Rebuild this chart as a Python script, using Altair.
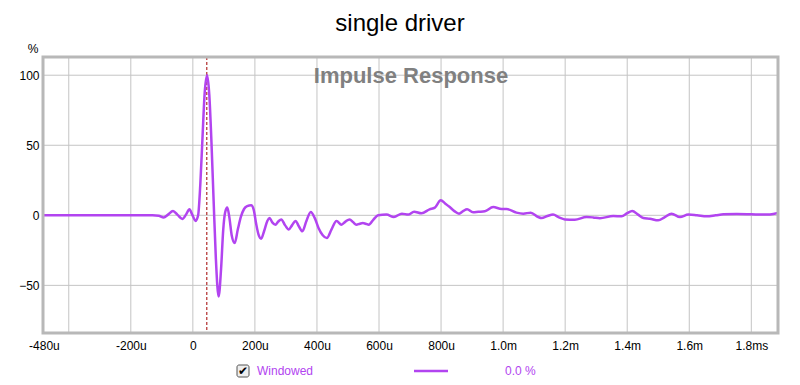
import altair as alt
import pandas as pd

# ---- data ----
time_us = [-483, -400, -300, -200, -130, -110, -94, -80, -64, -50, -34, -22, -11, -2, 9, 17,
           24, 31, 38, 46, 53, 60, 67, 74, 83, 91, 98, 104, 111, 118, 125, 135, 145, 155,
           165, 175, 188, 196, 204, 212, 220, 230, 240, 247, 256, 266, 275, 285, 297, 309,
           320, 331, 342, 353, 366, 380, 393, 405, 418, 432, 447, 463, 479, 492, 505, 517,
           527, 538, 548, 557, 567, 582, 597, 624, 648, 674, 694, 713, 737, 763, 780, 799,
           813, 828, 843, 858, 871, 884, 903, 920, 941, 968, 995, 1011, 1043, 1065, 1089,
           1113, 1124, 1143, 1161, 1180, 1199, 1231, 1269, 1290, 1312, 1355, 1382, 1400,
           1416, 1435, 1452, 1473, 1500, 1520, 1543, 1570, 1597, 1625, 1656, 1685, 1710,
           1753, 1800, 1839, 1860, 1886]
response_pct = [0, 0, 0, 0, 0, -0.3, -1.6, 0.5, 3.1, 0.5, -2.6, 0.5, 4.3, 0.5, -4, 0,
                22, 55, 87, 100, 86, 52, 10, -30, -58, -38, -10, 2, 5.5, -2, -14, -19.8, -10, -1,
                4.5, 6.5, 7.1, 4, -6, -14, -16.7, -11, -4, -1.9, -5, -6.7, -4.5, -2.9, -7, -10.2,
                -7, -4, -8, -11.4, -4, 2.4, -2, -9, -14, -16.2, -10, -4, -6.7, -4.5, -2.9, -5,
                -6.7, -6, -5.5, -6, -6.7, -3, 0, 0.5, -1.2, 1.2, 0.5, 2.6, 1.4, 4.3, 5.5, 10.7,
                8.5, 5.9, 3, 1.2, 3, 4.3, 2.1, 2.5, 2.9, 5.9, 4.5, 4.5, 1.9, 1.2, 1.9,
                -1.2, -1.9, -0.5, 0.5, -1.5, -2.9, -3.1, -1.2, -1.5, -2.1, -0.5, -0.7, 1.5,
                3.1, 0.5, -1.9, -2.4, -3.6, -1.5, 1.2, -1.2, 0.5, 0, -0.7, 0, 0.7,
                0.9, 0.7, 0.5, 0.5, 1.6]

x_tick_values = [-480, -200, 0, 200, 400, 600, 800, 1000, 1200, 1400, 1600, 1800]
x_tick_labels = ["-480u", "-200u", "0", "200u", "400u", "600u", "800u", "1.0m", "1.2m", "1.4m", "1.6m", "1.8ms"]
x_grid = [-400, -200, 0, 200, 400, 600, 800, 1000, 1200, 1400, 1600, 1800]
y_grid = [-50, 0, 50, 100]
marker_us = [45]

X_DOMAIN = [-483, 1886]
Y_DOMAIN = [-84, 113]
PURPLE = "#b244f0"
FONT = "Liberation Sans"

df = pd.DataFrame({"t": time_us, "v": response_pct})
label_map = {str(v): l for v, l in zip(x_tick_values, x_tick_labels)}
label_expr = "{" + ",".join(f"'{k}':'{v}'" for k, v in label_map.items()) + "}[toString(datum.value)]"

xs = alt.Scale(domain=X_DOMAIN, nice=False, zero=False)
ys = alt.Scale(domain=Y_DOMAIN, nice=False, zero=False)

x_axis = alt.Axis(values=x_tick_values, labelExpr=label_expr, grid=False, ticks=False,
                  domain=False, labelFont=FONT, labelFontSize=12, labelColor="#000",
                  labelPadding=7, labelFlush=False, labelOverlap=False, title=None)
y_axis = alt.Axis(values=y_grid, grid=False, ticks=False, domain=False, labelFont=FONT,
                  labelFontSize=12, labelColor="#000", labelPadding=4, title=None)

W, H = 735, 276

vgrid = alt.Chart(pd.DataFrame({"g": x_grid})).mark_rule(color="#c4c4c4", strokeWidth=1).encode(
    x=alt.X("g:Q", scale=xs, axis=x_axis))
hgrid = alt.Chart(pd.DataFrame({"g": y_grid})).mark_rule(color="#c4c4c4", strokeWidth=1).encode(
    y=alt.Y("g:Q", scale=ys, axis=y_axis))

line = alt.Chart(df).mark_line(color=PURPLE, strokeWidth=2.5, interpolate="monotone", clip=True).encode(
    x=alt.X("t:Q", scale=xs, axis=x_axis),
    y=alt.Y("v:Q", scale=ys, axis=y_axis),
)

marker = alt.Chart(pd.DataFrame({"m": marker_us})).mark_rule(
    color="#a00000", strokeWidth=1, strokeDash=[3, 2]).encode(x=alt.X("m:Q", scale=xs, axis=x_axis))

frame = alt.Chart(pd.DataFrame({"a": [0]})).mark_rect(
    fill=None, stroke="#b8b8b8", strokeWidth=3).encode(
    x=alt.value(0), x2=alt.value(W), y=alt.value(0), y2=alt.value(H))

def txt(s, x, y, size=12, color="#000", weight="normal", align="left", baseline="alphabetic"):
    return alt.Chart(pd.DataFrame({"s": [s]})).mark_text(
        font=FONT, fontSize=size, color=color, fontWeight=weight, align=align, baseline=baseline
    ).encode(text="s:N", x=alt.value(x), y=alt.value(y))

title = txt("single driver", 357, -26, size=24, align="center")
subtitle = txt("Impulse Response", 368, 26, size=22, color="#808080", weight="bold", align="center")
pct = txt("%", -10, -4, size=12, align="center")

checkbox = alt.Chart(pd.DataFrame({"a": [0]})).mark_rect(
    fill="#eeeeee", stroke="#555555", strokeWidth=1, cornerRadius=2).encode(
    x=alt.value(194), x2=alt.value(206), y=alt.value(308), y2=alt.value(320))
check = txt("✔", 200, 318, size=12, align="center")
windowed = txt("Windowed", 214, 318, size=12, color=PURPLE)
legline = alt.Chart(pd.DataFrame({"a": [0]})).mark_rule(color=PURPLE, strokeWidth=2.5).encode(
    x=alt.value(371), x2=alt.value(405), y=alt.value(314))
pctval = txt("0.0 %", 462, 318, size=12, color=PURPLE)

chart = alt.layer(vgrid, hgrid, marker, line, frame, title, subtitle, pct,
                  checkbox, check, windowed, legline, pctval).properties(
    width=W, height=H,
    autosize=alt.AutoSizeParams(type="none"),
    padding={"left": 35, "top": 49, "right": 13, "bottom": 50},
).configure_view(stroke=None).configure(background="white")

chart.save("out.html", embed_options={"renderer": "svg", "actions": False})
